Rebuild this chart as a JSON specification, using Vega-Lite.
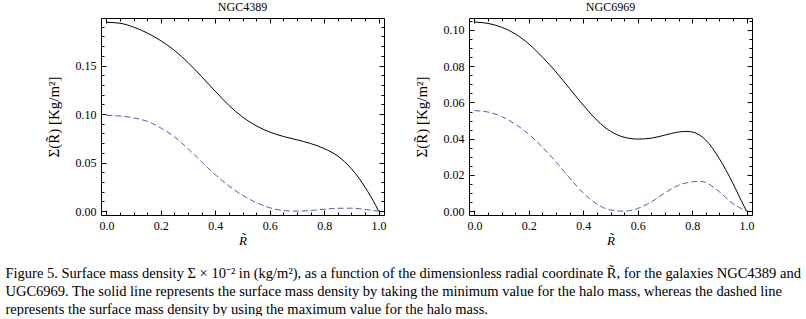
{
  "$schema": "https://vega.github.io/schema/vega-lite/v6.json",
  "background": "white",
  "padding": {"left": 5, "top": 0, "right": 0, "bottom": 0},
  "datasets": {
    "ngc4389": [
      {"r": 0.0, "sigma": 0.1945, "s": "min"}, {"r": 0.05, "sigma": 0.1935, "s": "min"}, {"r": 0.1, "sigma": 0.1895, "s": "min"},
      {"r": 0.15, "sigma": 0.1835, "s": "min"}, {"r": 0.2, "sigma": 0.1755, "s": "min"}, {"r": 0.25, "sigma": 0.1655, "s": "min"},
      {"r": 0.3, "sigma": 0.153, "s": "min"}, {"r": 0.35, "sigma": 0.1385, "s": "min"}, {"r": 0.4, "sigma": 0.1235, "s": "min"},
      {"r": 0.45, "sigma": 0.109, "s": "min"}, {"r": 0.5, "sigma": 0.097, "s": "min"}, {"r": 0.55, "sigma": 0.088, "s": "min"},
      {"r": 0.6, "sigma": 0.0815, "s": "min"}, {"r": 0.65, "sigma": 0.077, "s": "min"}, {"r": 0.7, "sigma": 0.0735, "s": "min"},
      {"r": 0.75, "sigma": 0.0697, "s": "min"}, {"r": 0.8, "sigma": 0.0645, "s": "min"}, {"r": 0.85, "sigma": 0.0568, "s": "min"},
      {"r": 0.9, "sigma": 0.0438, "s": "min"}, {"r": 0.93, "sigma": 0.0333, "s": "min"}, {"r": 0.95, "sigma": 0.0248, "s": "min"},
      {"r": 0.97, "sigma": 0.0158, "s": "min"}, {"r": 0.99, "sigma": 0.0058, "s": "min"}, {"r": 1.0, "sigma": 0.0, "s": "min"},
      {"r": 0.0, "sigma": 0.0986, "s": "max"}, {"r": 0.05, "sigma": 0.098, "s": "max"}, {"r": 0.1, "sigma": 0.0961, "s": "max"},
      {"r": 0.15, "sigma": 0.0925, "s": "max"}, {"r": 0.2, "sigma": 0.0857, "s": "max"}, {"r": 0.25, "sigma": 0.0765, "s": "max"},
      {"r": 0.3, "sigma": 0.0644, "s": "max"}, {"r": 0.35, "sigma": 0.0507, "s": "max"}, {"r": 0.4, "sigma": 0.0375, "s": "max"},
      {"r": 0.45, "sigma": 0.026, "s": "max"}, {"r": 0.5, "sigma": 0.0164, "s": "max"}, {"r": 0.55, "sigma": 0.0089, "s": "max"},
      {"r": 0.6, "sigma": 0.0036, "s": "max"}, {"r": 0.65, "sigma": 0.0007, "s": "max"}, {"r": 0.7, "sigma": 0.0, "s": "max"},
      {"r": 0.75, "sigma": 0.0007, "s": "max"}, {"r": 0.8, "sigma": 0.002, "s": "max"}, {"r": 0.85, "sigma": 0.003, "s": "max"},
      {"r": 0.9, "sigma": 0.0031, "s": "max"}, {"r": 0.95, "sigma": 0.0019, "s": "max"}, {"r": 1.0, "sigma": 0.0, "s": "max"}
    ],
    "ngc6969": [
      {"r": 0.0, "sigma": 0.1044, "s": "min"}, {"r": 0.05, "sigma": 0.1036, "s": "min"}, {"r": 0.1, "sigma": 0.1015, "s": "min"},
      {"r": 0.15, "sigma": 0.0978, "s": "min"}, {"r": 0.2, "sigma": 0.0923, "s": "min"}, {"r": 0.25, "sigma": 0.085, "s": "min"},
      {"r": 0.3, "sigma": 0.0768, "s": "min"}, {"r": 0.35, "sigma": 0.0676, "s": "min"}, {"r": 0.4, "sigma": 0.0585, "s": "min"},
      {"r": 0.45, "sigma": 0.0502, "s": "min"}, {"r": 0.5, "sigma": 0.0441, "s": "min"}, {"r": 0.55, "sigma": 0.0408, "s": "min"},
      {"r": 0.6, "sigma": 0.0398, "s": "min"}, {"r": 0.65, "sigma": 0.0403, "s": "min"}, {"r": 0.7, "sigma": 0.042, "s": "min"},
      {"r": 0.75, "sigma": 0.0437, "s": "min"}, {"r": 0.78, "sigma": 0.044, "s": "min"}, {"r": 0.8, "sigma": 0.0437, "s": "min"},
      {"r": 0.85, "sigma": 0.0393, "s": "min"}, {"r": 0.9, "sigma": 0.029, "s": "min"}, {"r": 0.95, "sigma": 0.0153, "s": "min"},
      {"r": 0.98, "sigma": 0.006, "s": "min"}, {"r": 1.0, "sigma": 0.0, "s": "min"},
      {"r": 0.0, "sigma": 0.0555, "s": "max"}, {"r": 0.05, "sigma": 0.0547, "s": "max"}, {"r": 0.1, "sigma": 0.0522, "s": "max"},
      {"r": 0.15, "sigma": 0.048, "s": "max"}, {"r": 0.2, "sigma": 0.0424, "s": "max"}, {"r": 0.25, "sigma": 0.0353, "s": "max"},
      {"r": 0.3, "sigma": 0.0272, "s": "max"}, {"r": 0.35, "sigma": 0.0183, "s": "max"}, {"r": 0.4, "sigma": 0.0101, "s": "max"},
      {"r": 0.45, "sigma": 0.0039, "s": "max"}, {"r": 0.5, "sigma": 0.0007, "s": "max"}, {"r": 0.55, "sigma": 0.0, "s": "max"},
      {"r": 0.6, "sigma": 0.0015, "s": "max"}, {"r": 0.65, "sigma": 0.0051, "s": "max"}, {"r": 0.7, "sigma": 0.0101, "s": "max"},
      {"r": 0.75, "sigma": 0.0143, "s": "max"}, {"r": 0.8, "sigma": 0.0162, "s": "max"}, {"r": 0.83, "sigma": 0.0165, "s": "max"},
      {"r": 0.85, "sigma": 0.0158, "s": "max"}, {"r": 0.9, "sigma": 0.0107, "s": "max"}, {"r": 0.95, "sigma": 0.0042, "s": "max"},
      {"r": 1.0, "sigma": 0.0, "s": "max"}
    ]
  },
  "title": {
    "text": [
      "Figure 5. Surface mass density Σ × 10⁻² in (kg/m²), as a function of the dimensionless radial coordinate R̃, for the galaxies NGC4389 and",
      "UGC6969. The solid line represents the surface mass density by taking the minimum value for the halo mass, whereas the dashed line",
      "represents the surface mass density by using the maximum value for the halo mass."
    ],
    "orient": "bottom",
    "anchor": "start",
    "frame": "bounds",
    "font": "Liberation Serif",
    "fontSize": 14.5,
    "fontWeight": "normal",
    "color": "#000",
    "lineHeight": 18,
    "offset": 19,
    "dx": -40
  },
  "spacing": 26,
  "hconcat": [
    {
      "title": {"text": "NGC4389"},
      "width": 283,
      "height": 197,
      "data": {"name": "ngc4389"},
      "layer": [
        {
          "transform": [{"filter": "datum.s == 'min'"}],
          "mark": {"type": "line", "color": "#000", "strokeWidth": 1, "interpolate": "monotone"},
          "encoding": {
            "x": {"field": "r", "type": "quantitative", "scale": {"domain": [-0.02, 1.02], "nice": false, "zero": false},
              "axis": {"orient": "bottom", "values": [0, 0.05, 0.1, 0.15, 0.2, 0.25, 0.3, 0.35, 0.4, 0.45, 0.5, 0.55, 0.6, 0.65, 0.7, 0.75, 0.8, 0.85, 0.9, 0.95, 1.0],
                "labelExpr": "abs(datum.value*5 - round(datum.value*5)) < 0.001 ? format(datum.value, '.1f') : ''",
                "tickSize": {"condition": {"test": "abs(datum.value*5 - round(datum.value*5)) < 0.001", "value": -5}, "value": -3},
                "title": "R̃", "titleFontStyle": "italic", "titleFontSize": 13, "titlePadding": 3, "labelPadding": 10}},
            "y": {"field": "sigma", "type": "quantitative", "scale": {"domain": [-0.0039, 0.1989], "nice": false, "zero": false},
              "axis": {"orient": "left", "values": [0, 0.01, 0.02, 0.03, 0.04, 0.05, 0.06, 0.07, 0.08, 0.09, 0.1, 0.11, 0.12, 0.13, 0.14, 0.15, 0.16, 0.17, 0.18, 0.19],
                "labelExpr": "abs(datum.value*20 - round(datum.value*20)) < 0.001 ? format(datum.value, '.2f') : ''",
                "tickSize": {"condition": {"test": "abs(datum.value*20 - round(datum.value*20)) < 0.001", "value": -5}, "value": -3},
                "title": "Σ(R̃) [Kg/m²]", "titleFontSize": 15, "titlePadding": 14, "labelPadding": 10}}
          }
        },
        {
          "transform": [{"filter": "datum.s == 'max'"}],
          "mark": {"type": "line", "color": "#4f5fae", "strokeWidth": 1, "strokeDash": [6, 3], "interpolate": "monotone"},
          "encoding": {
            "x": {"field": "r", "type": "quantitative",
              "axis": {"orient": "top", "values": [0, 0.05, 0.1, 0.15, 0.2, 0.25, 0.3, 0.35, 0.4, 0.45, 0.5, 0.55, 0.6, 0.65, 0.7, 0.75, 0.8, 0.85, 0.9, 0.95, 1.0],
                "labels": false, "title": null,
                "tickSize": {"condition": {"test": "abs(datum.value*5 - round(datum.value*5)) < 0.001", "value": -5}, "value": -3}}},
            "y": {"field": "sigma", "type": "quantitative",
              "axis": {"orient": "right", "values": [0, 0.01, 0.02, 0.03, 0.04, 0.05, 0.06, 0.07, 0.08, 0.09, 0.1, 0.11, 0.12, 0.13, 0.14, 0.15, 0.16, 0.17, 0.18, 0.19],
                "labels": false, "title": null,
                "tickSize": {"condition": {"test": "abs(datum.value*20 - round(datum.value*20)) < 0.001", "value": -5}, "value": -3}}}
          }
        }
      ],
      "resolve": {"axis": {"x": "independent", "y": "independent"}}
    },
    {
      "title": {"text": "NGC6969"},
      "width": 283,
      "height": 197,
      "data": {"name": "ngc6969"},
      "layer": [
        {
          "transform": [{"filter": "datum.s == 'min'"}],
          "mark": {"type": "line", "color": "#000", "strokeWidth": 1, "interpolate": "monotone"},
          "encoding": {
            "x": {"field": "r", "type": "quantitative", "scale": {"domain": [-0.02, 1.02], "nice": false, "zero": false},
              "axis": {"orient": "bottom", "values": [0, 0.05, 0.1, 0.15, 0.2, 0.25, 0.3, 0.35, 0.4, 0.45, 0.5, 0.55, 0.6, 0.65, 0.7, 0.75, 0.8, 0.85, 0.9, 0.95, 1.0],
                "labelExpr": "abs(datum.value*5 - round(datum.value*5)) < 0.001 ? format(datum.value, '.1f') : ''",
                "tickSize": {"condition": {"test": "abs(datum.value*5 - round(datum.value*5)) < 0.001", "value": -5}, "value": -3},
                "title": "R̃", "titleFontStyle": "italic", "titleFontSize": 13, "titlePadding": 3, "labelPadding": 10}},
            "y": {"field": "sigma", "type": "quantitative", "scale": {"domain": [-0.0021, 0.1066], "nice": false, "zero": false},
              "axis": {"orient": "left", "values": [0, 0.005, 0.01, 0.015, 0.02, 0.025, 0.03, 0.035, 0.04, 0.045, 0.05, 0.055, 0.06, 0.065, 0.07, 0.075, 0.08, 0.085, 0.09, 0.095, 0.1, 0.105],
                "labelExpr": "abs(datum.value*50 - round(datum.value*50)) < 0.001 ? format(datum.value, '.2f') : ''",
                "tickSize": {"condition": {"test": "abs(datum.value*50 - round(datum.value*50)) < 0.001", "value": -5}, "value": -3},
                "title": "Σ(R̃) [Kg/m²]", "titleFontSize": 15, "titlePadding": 14, "labelPadding": 10}}
          }
        },
        {
          "transform": [{"filter": "datum.s == 'max'"}],
          "mark": {"type": "line", "color": "#4f5fae", "strokeWidth": 1, "strokeDash": [6, 3], "interpolate": "monotone"},
          "encoding": {
            "x": {"field": "r", "type": "quantitative",
              "axis": {"orient": "top", "values": [0, 0.05, 0.1, 0.15, 0.2, 0.25, 0.3, 0.35, 0.4, 0.45, 0.5, 0.55, 0.6, 0.65, 0.7, 0.75, 0.8, 0.85, 0.9, 0.95, 1.0],
                "labels": false, "title": null,
                "tickSize": {"condition": {"test": "abs(datum.value*5 - round(datum.value*5)) < 0.001", "value": -5}, "value": -3}}},
            "y": {"field": "sigma", "type": "quantitative",
              "axis": {"orient": "right", "values": [0, 0.005, 0.01, 0.015, 0.02, 0.025, 0.03, 0.035, 0.04, 0.045, 0.05, 0.055, 0.06, 0.065, 0.07, 0.075, 0.08, 0.085, 0.09, 0.095, 0.1, 0.105],
                "labels": false, "title": null,
                "tickSize": {"condition": {"test": "abs(datum.value*50 - round(datum.value*50)) < 0.001", "value": -5}, "value": -3}}}
          }
        }
      ],
      "resolve": {"axis": {"x": "independent", "y": "independent"}}
    }
  ],
  "config": {
    "font": "Liberation Serif",
    "view": {"stroke": "#000", "strokeWidth": 1},
    "axis": {
      "domain": false,
      "grid": false,
      "labelFont": "Liberation Serif",
      "labelFontSize": 12,
      "labelColor": "#000",
      "tickColor": "#000",
      "tickWidth": 1,
      "titleFont": "Liberation Serif",
      "titleFontWeight": "normal",
      "titleColor": "#000"
    },
    "title": {"font": "Liberation Serif", "fontSize": 12, "fontWeight": "normal", "color": "#000", "offset": 4}
  }
}
